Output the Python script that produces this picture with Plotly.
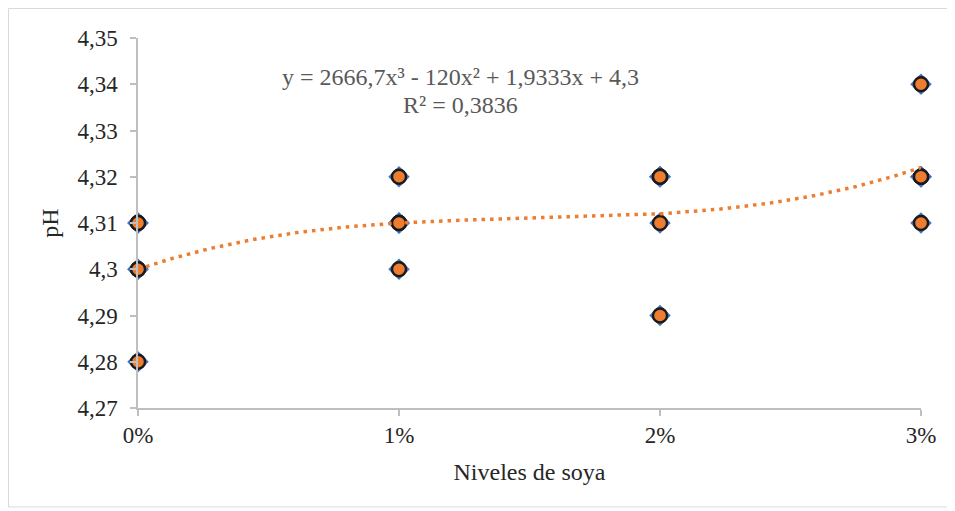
import numpy as np
import plotly.graph_objects as go

# Data: soy level (fraction) and pH replicates
niveles = [0.00] * 5 + [0.01] * 5 + [0.02] * 5 + [0.03] * 5
ph = [4.31, 4.31, 4.30, 4.30, 4.28,
      4.32, 4.31, 4.31, 4.31, 4.30,
      4.32, 4.32, 4.32, 4.31, 4.29,
      4.34, 4.32, 4.32, 4.32, 4.31]

x_tickvals = [0.00, 0.01, 0.02, 0.03]
x_ticktext = ["0%", "1%", "2%", "3%"]
y_tickvals = [4.27, 4.28, 4.29, 4.30, 4.31, 4.32, 4.33, 4.34, 4.35]
y_ticktext = ["4,27", "4,28", "4,29", "4,3", "4,31", "4,32", "4,33", "4,34", "4,35"]

eq_line1 = "y = 2666,7x³ - 120x² + 1,9333x + 4,3"
eq_line2 = "R² = 0,3836"

# Polynomial (order 3) trendline fitted to the data
coef = np.polyfit(niveles, ph, 3)
xs = np.linspace(min(niveles), max(niveles), 200)
ys = np.polyval(coef, xs)

ORANGE = "#ED7D31"
BLUE = "#4472C4"
AXIS = "#BFBFBF"
TXT = "#262626"
FONT = "Liberation Serif, Times New Roman, serif"

fig = go.Figure()
fig.add_trace(go.Scatter(
    x=niveles, y=ph, mode="markers",
    marker=dict(symbol="diamond", size=16.5, color=BLUE, line=dict(width=0)),
    cliponaxis=False, showlegend=False, hoverinfo="skip"))
fig.add_trace(go.Scatter(
    x=niveles, y=ph, mode="markers", name="pH",
    marker=dict(symbol="circle", size=14, color=ORANGE,
                line=dict(color="#1a1a1a", width=2.4)),
    cliponaxis=False, showlegend=False))
fig.add_trace(go.Scatter(
    x=xs, y=ys, mode="lines", name="Poly. (pH)",
    line=dict(color=ORANGE, width=3.5, dash="3.5px,5px"),
    showlegend=False, hoverinfo="skip"))

OFF = 8  # page body offset
W, H = 955, 511
L, T = 138 - OFF, 38 - OFF
pw, ph_ = 783, 370
R = W - L - pw
B = H - T - ph_


def px(xp):  # page pixel x -> paper
    return (xp - OFF - L) / pw


def py(yp):  # page pixel y -> paper
    return (T + ph_ - (yp - OFF)) / ph_


fig.update_layout(
    width=W, height=H,
    margin=dict(l=L, r=R, t=T, b=B, autoexpand=False),
    paper_bgcolor="white", plot_bgcolor="white",
    font=dict(family=FONT, color=TXT, size=23),
    xaxis=dict(range=[0, 0.03], tickvals=x_tickvals, ticktext=x_ticktext,
               showline=True, linecolor=AXIS, linewidth=1.5,
               ticks="outside", ticklen=6, tickcolor=AXIS, tickwidth=1.5,
               showgrid=False, zeroline=False,
               tickfont=dict(size=23, color=TXT, family=FONT),
               title=dict(text="Niveles de soya", standoff=16,
                          font=dict(size=24, color=TXT, family=FONT)),
               automargin=False),
    yaxis=dict(range=[4.27, 4.35], tickvals=y_tickvals, ticktext=y_ticktext,
               showline=True, linecolor=AXIS, linewidth=1.5,
               ticks="outside", ticklen=6, tickcolor=AXIS, tickwidth=1.5,
               ticklabelstandoff=8,
               showgrid=False, zeroline=False,
               tickfont=dict(size=23, color=TXT, family=FONT),
               title=dict(text="pH", standoff=12,
                          font=dict(size=24, color=TXT, family=FONT)),
               automargin=False),
    shapes=[dict(type="rect", xref="paper", yref="paper",
                 x0=px(8.5), x1=px(951), y0=py(507), y1=py(8.5),
                 line=dict(color="#D9D9D9", width=1), layer="below")],
    annotations=[
        dict(text=eq_line1, xref="paper", yref="paper", x=px(460), y=py(77),
             xanchor="center", yanchor="middle", showarrow=False,
             font=dict(size=24, color="#595959", family=FONT)),
        dict(text=eq_line2, xref="paper", yref="paper", x=px(460), y=py(105),
             xanchor="center", yanchor="middle", showarrow=False,
             font=dict(size=24, color="#595959", family=FONT)),
    ],
)

fig.write_html("out.html")
